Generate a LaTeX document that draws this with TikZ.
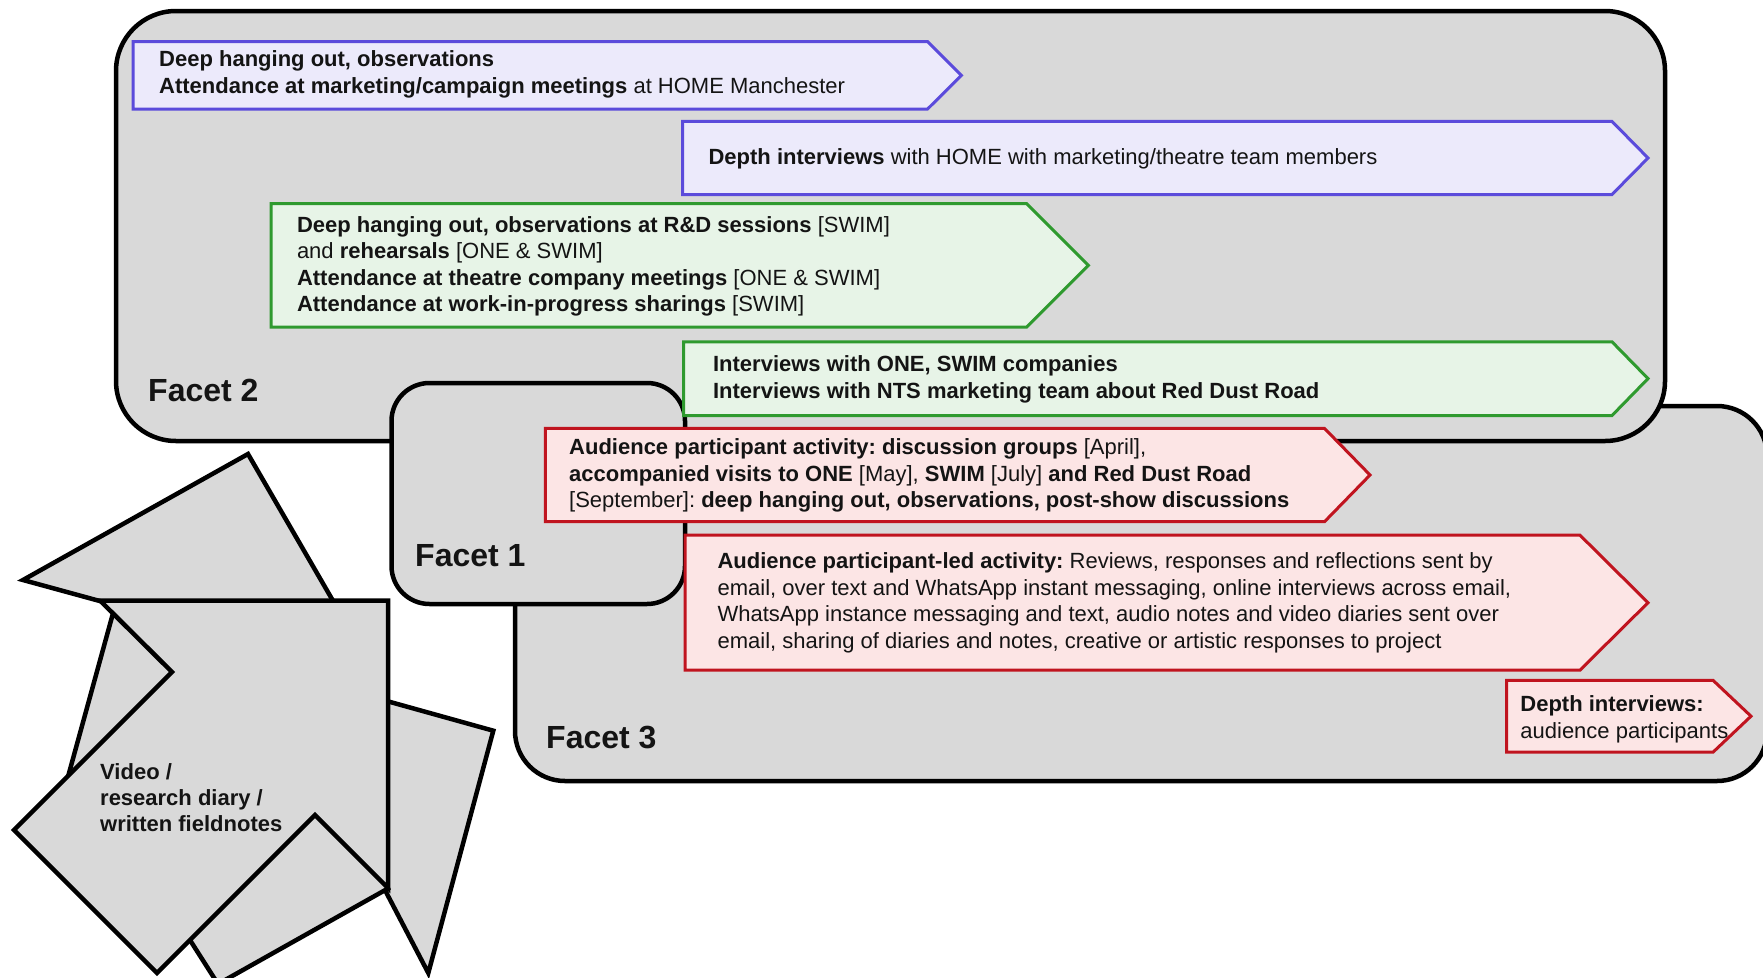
\documentclass[tikz,border=0pt]{standalone}
\usepackage{fontspec}
\setmainfont{Liberation Sans}
\definecolor{paper}{HTML}{D9D9D9}
\definecolor{ink}{HTML}{141414}
\definecolor{blueline}{HTML}{5B4BDB}
\definecolor{bluefill}{HTML}{ECEAFB}
\definecolor{greenline}{HTML}{2F9A2F}
\definecolor{greenfill}{HTML}{E7F4E7}
\definecolor{redline}{HTML}{C0141F}
\definecolor{redfill}{HTML}{FCE5E5}
\begin{document}
\begin{tikzpicture}[x=1pt,y=-1pt,
  facet/.style={fill=paper, draw=black, line width=4.5pt},
  sheet/.style={fill=paper, draw=black, line width=4.5pt},
  bluebox/.style={fill=bluefill, draw=blueline, line width=3pt},
  greenbox/.style={fill=greenfill, draw=greenline, line width=3pt},
  redbox/.style={fill=redfill, draw=redline, line width=3pt},
  txt/.style={anchor=north west, inner sep=0pt, align=left, text=ink,
    font=\fontsize{22}{26.6}\selectfont\frenchspacing},
  facetlabel/.style={anchor=base west, inner sep=0pt, text=ink,
    font=\fontsize{32}{38}\selectfont\bfseries}
]
\clip (0,0) rectangle (1763,977);

% ---- the three facets (back to front) ----
\draw[facet, rounded corners=50pt] (515,406) rectangle (1767,781);
\draw[facet, rounded corners=60pt] (116,11) rectangle (1665,441);
\draw[facet, rounded corners=38pt] (391.5,383) rectangle (685,604);

\node[facetlabel] (f2) at (148,401) {Facet 2};
\node[facetlabel] (f1) at (415,566) {Facet 1};
\node[facetlabel] (f3) at (546,748) {Facet 3};

% ---- stack of notes (back sheets first) ----
\draw[sheet] (23,580) -- (248,454) -- (347,625) -- (140,612) -- cycle;
\draw[sheet] (115,606) -- (68.3,775.7) -- (200,800) -- (200,640) -- cycle;
\draw[sheet] (340,688) -- (493.3,730.7) -- (428.3,973) -- (366.7,855) -- cycle;
\draw[sheet] (218,984) -- (160,893) -- (330,775) -- (388,888.5) -- cycle;
\draw[sheet] (100,600.5) -- (388,600.5) -- (388,888) -- (315,815) -- (157,973)
  -- (14,830) -- (172,672) -- cycle;
\node[txt, font=\fontsize{22}{26}\selectfont\bfseries] (notes) at (100,762)
  {\rule{0pt}{17pt}Video /\\research diary /\\written fieldnotes};

% ---- Facet 2 activities ----
\draw[bluebox] (133,41.6) -- (927.6,41.6) -- (961.4,75.3) -- (927.6,109) -- (133,109) -- cycle;
\node[txt] (b1) at (159,49.6)
  {\rule{0pt}{17pt}\textbf{Deep hanging out, observations}\\
   \textbf{Attendance at marketing/campaign meetings} at HOME Manchester};

\draw[bluebox] (682.5,121.4) -- (1612,121.4) -- (1648,158) -- (1612,194.5) -- (682.5,194.5) -- cycle;
\node[txt] (b2) at (708.4,147.4)
  {\rule{0pt}{17pt}\textbf{Depth interviews} with HOME with marketing/theatre team members};

\draw[greenbox] (271,203.5) -- (1026.6,203.5) -- (1088.4,265.4) -- (1026.6,327.2) -- (271,327.2) -- cycle;
\node[txt] (g1) at (296.8,214.9)
  {\rule{0pt}{17pt}\textbf{Deep hanging out, observations at R\&D sessions} [SWIM]\\
   and \textbf{rehearsals} [ONE \& SWIM]\\
   \textbf{Attendance at theatre company meetings} [ONE \& SWIM]\\
   \textbf{Attendance at work-in-progress sharings} [SWIM]};

\draw[greenbox] (683.6,341.8) -- (1612,341.8) -- (1648,378.6) -- (1612,415.5) -- (683.6,415.5) -- cycle;
\node[txt] (g2) at (712.9,354.3)
  {\rule{0pt}{17pt}\textbf{Interviews with ONE, SWIM companies}\\
   \textbf{Interviews with NTS marketing team about Red Dust Road}};

% ---- Facet 1 and Facet 3 activities ----
\draw[redbox] (545.3,428.4) -- (1324.5,428.4) -- (1370,475) -- (1324.5,521.7) -- (545.3,521.7) -- cycle;
\node[txt] (r1) at (569,437.5)
  {\rule{0pt}{17pt}\textbf{Audience participant activity: discussion groups} [April],\\
   \textbf{accompanied visits to ONE} [May], \textbf{SWIM} [July] \textbf{and Red Dust Road}\\
   {}[September]: \textbf{deep hanging out, observations, post-show discussions}};

\draw[redbox] (685,535.2) -- (1580,535.2) -- (1648,602.7) -- (1580,670.1) -- (685,670.1) -- cycle;
\node[txt] (r2) at (717.4,551.3)
  {\rule{0pt}{17pt}\textbf{Audience participant-led activity:} Reviews, responses and reflections sent by\\
   email, over text and WhatsApp instant messaging, online interviews across email,\\
   WhatsApp instance messaging and text, audio notes and video diaries sent over\\
   email, sharing of diaries and notes, creative or artistic responses to project};

\draw[redbox] (1506.7,680.3) -- (1713,680.3) -- (1751,716.2) -- (1713,752.2) -- (1506.7,752.2) -- cycle;
\node[txt] (r3) at (1520.2,694.4)
  {\rule{0pt}{17pt}\textbf{Depth interviews:}\\audience participants};
\end{tikzpicture}
\end{document}
